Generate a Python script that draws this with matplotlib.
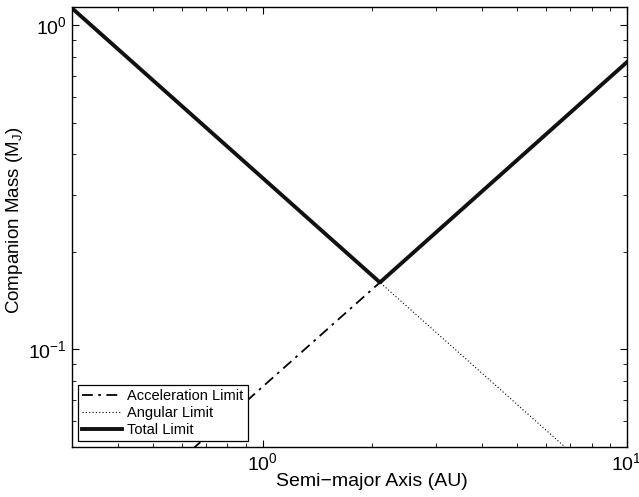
import matplotlib
matplotlib.use("Agg")
import matplotlib.pyplot as plt

plt.rcParams['font.family'] = ['Liberation Sans', 'DejaVu Sans']
plt.rcParams['mathtext.fontset'] = 'custom'
plt.rcParams['mathtext.rm'] = 'Liberation Sans'
plt.rcParams['mathtext.it'] = 'Liberation Sans'
plt.rcParams['mathtext.default'] = 'regular'

# values (log-log, straight segments)
semi_major = [0.3, 2.1, 10.0]
accel_limit = [0.023, 0.161, 0.77]
angular_limit = [1.13, 0.161, 0.0338]
total_limit = [1.13, 0.161, 0.77]

fig = plt.figure(figsize=(6.39, 4.97), dpi=100)
ax = fig.add_axes([0.1127, 0.1006, 0.8683, 0.8854])

ax.plot(semi_major, accel_limit, color='k', linestyle=(0, (6, 3, 1.5, 3)), linewidth=1.3,
        label='Acceleration Limit')
ax.plot(semi_major, angular_limit, color='k', linestyle=(0, (1, 2)), linewidth=0.8,
        label='Angular Limit')
ax.plot(semi_major, total_limit, color='#111111', linewidth=2.8, label='Total Limit')

ax.set_xscale('log')
ax.set_yscale('log')
ax.set_xlim(0.3, 10)
ax.set_ylim(0.05, 1.14)

ax.tick_params(which='both', direction='in', top=True, right=True, labelsize=14)
ax.tick_params(which='major', length=5)
ax.tick_params(which='minor', length=3)
for s in ax.spines.values():
    s.set_linewidth(1.0)

ax.set_xlabel('Semi\u2212major Axis (AU)', fontsize=14)
ax.set_ylabel('Companion Mass (M$_J$)', fontsize=13.5)
ax.xaxis.set_label_coords(0.54, -0.06)
ax.yaxis.set_label_coords(-0.085, 0.516)

leg = ax.legend(loc='lower left', fontsize=10.5, frameon=True, fancybox=False,
                borderaxespad=0.4, handlelength=2.7, labelspacing=0.2,
                borderpad=0.3, handletextpad=0.4)
leg.get_frame().set_edgecolor('k')
leg.get_frame().set_linewidth(0.9)
leg.get_frame().set_alpha(1)

fig.savefig('out.png', dpi=100)
